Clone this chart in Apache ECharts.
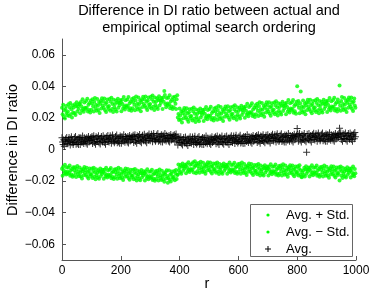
<!DOCTYPE html>
<html><head><meta charset="utf-8">
<script src="https://cdn.jsdelivr.net/npm/echarts@6/dist/echarts.min.js"></script>
<style>html,body{margin:0;padding:0;background:#fff}#c{width:374px;height:294px}</style>
</head><body><div id="c"></div>
<script>
var titleLines = ["Difference in DI ratio between actual and", "empirical optimal search ordering"];
var xName = "r";
var yName = "Difference in DI ratio";
var seriesNames = ["Avg. + Std.", "Avg. \u2212 Std.", "Avg."];
var xTicks = [0, 200, 400, 600, 800, 1000];
var xTickLabels = ["0", "200", "400", "600", "800", "1000"];
var yTicks = [-0.06, -0.04, -0.02, 0, 0.02, 0.04, 0.06];
var yTickLabels = ["\u22120.06", "\u22120.04", "\u22120.02", "0", "0.02", "0.04", "0.06"];

var r = [
0,2,4,6,8,10,12,14,16,18,20,22,24,26,28,30,32,34,36,38,40,42,44,46,48,50,52,54,56,58,60,62,64,66,68,70,72,74,76,78,80,82,84,86,88,90,92,94,96,98,
100,102,104,106,108,110,112,114,116,118,120,122,124,126,128,130,132,134,136,138,140,142,144,146,148,150,152,154,156,158,160,162,164,166,168,170,172,174,176,178,180,182,184,186,188,190,192,194,196,198,
200,202,204,206,208,210,212,214,216,218,220,222,224,226,228,230,232,234,236,238,240,242,244,246,248,250,252,254,256,258,260,262,264,266,268,270,272,274,276,278,280,282,284,286,288,290,292,294,296,298,
300,302,304,306,308,310,312,314,316,318,320,322,324,326,328,330,332,334,336,338,340,342,344,346,348,350,352,354,356,358,360,362,364,366,368,370,372,374,376,378,380,382,384,386,388,390,392,394,396,398,
400,402,404,406,408,410,412,414,416,418,420,422,424,426,428,430,432,434,436,438,440,442,444,446,448,450,452,454,456,458,460,462,464,466,468,470,472,474,476,478,480,482,484,486,488,490,492,494,496,498,
500,502,504,506,508,510,512,514,516,518,520,522,524,526,528,530,532,534,536,538,540,542,544,546,548,550,552,554,556,558,560,562,564,566,568,570,572,574,576,578,580,582,584,586,588,590,592,594,596,598,
600,602,604,606,608,610,612,614,616,618,620,622,624,626,628,630,632,634,636,638,640,642,644,646,648,650,652,654,656,658,660,662,664,666,668,670,672,674,676,678,680,682,684,686,688,690,692,694,696,698,
700,702,704,706,708,710,712,714,716,718,720,722,724,726,728,730,732,734,736,738,740,742,744,746,748,750,752,754,756,758,760,762,764,766,768,770,772,774,776,778,780,782,784,786,788,790,792,794,796,798,
800,802,804,806,808,810,812,814,816,818,820,822,824,826,828,830,832,834,836,838,840,842,844,846,848,850,852,854,856,858,860,862,864,866,868,870,872,874,876,878,880,882,884,886,888,890,892,894,896,898,
900,902,904,906,908,910,912,914,916,918,920,922,924,926,928,930,932,934,936,938,940,942,944,946,948,950,952,954,956,958,960,962,964,966,968,970,972,974,976,978,980,982,984,986,988,990,992,994,996,998];

var avgPlusStd = [
.0264,.0224,.0283,.0211,.0249,.0197,.0257,.0276,.0231,.0217,
.0241,.0286,.0212,.0268,.0294,.0223,.0255,.0203,.0281,.0234,
.0266,.0230,.0287,.0218,.0275,.0299,.0241,.0272,.0257,.0289,
.0286,.0229,.0301,.0274,.0248,.0318,.0258,.0239,.0298,.0264,
.0257,.0307,.0265,.0322,.0241,.0283,.0251,.0294,.0235,.0310,
.0252,.0292,.0318,.0274,.0240,.0303,.0327,.0261,.0283,.0245,
.0320,.0277,.0251,.0301,.0232,.0290,.0309,.0259,.0324,.0279,
.0304,.0264,.0323,.0251,.0289,.0237,.0297,.0316,.0271,.0257,
.0275,.0320,.0246,.0302,.0328,.0257,.0289,.0237,.0315,.0268,
.0289,.0253,.0310,.0241,.0298,.0322,.0264,.0295,.0280,.0312,
.0300,.0243,.0315,.0288,.0262,.0332,.0272,.0253,.0312,.0278,
.0267,.0317,.0275,.0332,.0251,.0293,.0261,.0304,.0245,.0320,
.0261,.0301,.0327,.0283,.0249,.0312,.0336,.0270,.0292,.0254,
.0330,.0287,.0261,.0311,.0242,.0300,.0319,.0269,.0334,.0289,
.0317,.0277,.0336,.0264,.0302,.0250,.0310,.0329,.0284,.0270,
.0289,.0334,.0260,.0316,.0342,.0271,.0303,.0251,.0329,.0282,
.0304,.0268,.0325,.0256,.0313,.0337,.0279,.0310,.0295,.0327,
.0314,.0257,.0329,.0302,.0370,.0346,.0286,.0267,.0326,.0292,
.0278,.0328,.0286,.0343,.0262,.0304,.0272,.0315,.0256,.0331,
.0268,.0308,.0334,.0290,.0256,.0319,.0343,.0203,.0225,.0187,
.0259,.0216,.0190,.0240,.0171,.0229,.0248,.0198,.0263,.0218,
.0243,.0203,.0262,.0190,.0228,.0176,.0236,.0255,.0210,.0196,
.0213,.0258,.0184,.0240,.0266,.0195,.0227,.0175,.0253,.0206,
.0227,.0191,.0248,.0179,.0236,.0260,.0202,.0233,.0218,.0250,
.0238,.0181,.0253,.0226,.0200,.0270,.0210,.0191,.0250,.0216,
.0206,.0256,.0214,.0271,.0190,.0232,.0200,.0243,.0184,.0259,
.0200,.0240,.0266,.0222,.0188,.0251,.0275,.0209,.0231,.0193,
.0269,.0226,.0200,.0250,.0181,.0239,.0258,.0208,.0273,.0228,
.0255,.0215,.0274,.0202,.0240,.0188,.0248,.0267,.0222,.0208,
.0227,.0272,.0198,.0254,.0280,.0209,.0241,.0189,.0267,.0220,
.0244,.0208,.0265,.0196,.0253,.0277,.0219,.0250,.0235,.0267,
.0258,.0201,.0273,.0246,.0220,.0290,.0230,.0211,.0270,.0236,
.0228,.0278,.0236,.0293,.0212,.0254,.0222,.0265,.0206,.0281,
.0224,.0264,.0290,.0246,.0212,.0275,.0299,.0233,.0255,.0217,
.0295,.0252,.0226,.0276,.0207,.0265,.0284,.0234,.0299,.0254,
.0281,.0241,.0300,.0228,.0266,.0214,.0274,.0293,.0248,.0234,
.0253,.0298,.0224,.0280,.0306,.0235,.0267,.0215,.0293,.0246,
.0269,.0233,.0290,.0221,.0278,.0302,.0244,.0275,.0260,.0292,
.0281,.0224,.0296,.0269,.0243,.0313,.0253,.0234,.0293,.0259,
.0249,.0299,.0257,.0314,.0233,.0275,.0243,.0286,.0227,.0302,
.0400,.0282,.0308,.0264,.0230,.0293,.0368,.0251,.0273,.0235,
.0311,.0268,.0242,.0292,.0223,.0281,.0300,.0250,.0315,.0270,
.0296,.0256,.0315,.0243,.0281,.0229,.0289,.0308,.0263,.0249,
.0267,.0312,.0238,.0294,.0320,.0249,.0281,.0229,.0307,.0260,
.0282,.0246,.0303,.0234,.0291,.0315,.0257,.0288,.0273,.0305,
.0294,.0237,.0309,.0282,.0256,.0326,.0266,.0247,.0306,.0272,
.0263,.0313,.0271,.0328,.0247,.0289,.0257,.0300,.0241,.0316,
.0257,.0297,.0405,.0279,.0245,.0308,.0332,.0266,.0288,.0250,
.0326,.0283,.0257,.0307,.0238,.0296,.0315,.0265,.0330,.0285,
.0311,.0271,.0330,.0258,.0296,.0244,.0304,.0323,.0278,.0264];

var avgMinusStd = [
-.0122,-.0167,-.0110,-.0131,-.0152,-.0096,-.0144,-.0159,-.0112,-.0139,
-.0154,-.0114,-.0148,-.0102,-.0167,-.0133,-.0159,-.0124,-.0172,-.0112,
-.0164,-.0132,-.0112,-.0147,-.0174,-.0124,-.0104,-.0157,-.0140,-.0170,
-.0114,-.0148,-.0169,-.0129,-.0184,-.0138,-.0123,-.0163,-.0111,-.0147,
-.0130,-.0162,-.0115,-.0173,-.0142,-.0184,-.0136,-.0121,-.0157,-.0168,
-.0157,-.0121,-.0180,-.0136,-.0115,-.0172,-.0146,-.0188,-.0125,-.0163,
-.0148,-.0177,-.0131,-.0186,-.0141,-.0121,-.0168,-.0143,-.0155,-.0129,
-.0141,-.0186,-.0129,-.0150,-.0171,-.0115,-.0163,-.0178,-.0131,-.0158,
-.0169,-.0129,-.0163,-.0117,-.0182,-.0148,-.0174,-.0139,-.0187,-.0127,
-.0176,-.0144,-.0124,-.0159,-.0186,-.0136,-.0116,-.0169,-.0152,-.0182,
-.0124,-.0158,-.0179,-.0139,-.0194,-.0148,-.0133,-.0173,-.0121,-.0157,
-.0138,-.0170,-.0123,-.0181,-.0150,-.0192,-.0144,-.0129,-.0165,-.0176,
-.0165,-.0129,-.0188,-.0144,-.0123,-.0180,-.0154,-.0196,-.0133,-.0171,
-.0157,-.0186,-.0140,-.0195,-.0150,-.0130,-.0177,-.0152,-.0164,-.0138,
-.0151,-.0196,-.0139,-.0160,-.0181,-.0125,-.0173,-.0188,-.0141,-.0168,
-.0180,-.0140,-.0174,-.0128,-.0193,-.0159,-.0185,-.0150,-.0198,-.0138,
-.0187,-.0155,-.0135,-.0170,-.0197,-.0147,-.0127,-.0180,-.0163,-.0193,
-.0135,-.0169,-.0190,-.0150,-.0205,-.0159,-.0144,-.0184,-.0132,-.0168,
-.0210,-.0180,-.0133,-.0191,-.0160,-.0202,-.0154,-.0139,-.0175,-.0186,
-.0172,-.0136,-.0195,-.0151,-.0130,-.0187,-.0161,-.0158,-.0095,-.0133,
-.0115,-.0144,-.0098,-.0153,-.0108,-.0088,-.0135,-.0110,-.0122,-.0096,
-.0106,-.0151,-.0094,-.0115,-.0136,-.0080,-.0128,-.0143,-.0096,-.0123,
-.0132,-.0092,-.0126,-.0080,-.0145,-.0111,-.0074,-.0102,-.0150,-.0090,
-.0137,-.0105,-.0085,-.0120,-.0147,-.0097,-.0077,-.0130,-.0113,-.0143,
-.0084,-.0118,-.0139,-.0099,-.0154,-.0108,-.0093,-.0133,-.0081,-.0117,
-.0098,-.0130,-.0083,-.0141,-.0110,-.0152,-.0104,-.0089,-.0125,-.0136,
-.0124,-.0088,-.0147,-.0103,-.0082,-.0139,-.0113,-.0155,-.0092,-.0130,
-.0115,-.0144,-.0098,-.0153,-.0108,-.0088,-.0135,-.0110,-.0122,-.0096,
-.0108,-.0153,-.0096,-.0117,-.0138,-.0082,-.0130,-.0145,-.0098,-.0125,
-.0136,-.0096,-.0130,-.0084,-.0149,-.0115,-.0141,-.0106,-.0154,-.0094,
-.0143,-.0111,-.0091,-.0126,-.0153,-.0103,-.0083,-.0136,-.0119,-.0149,
-.0092,-.0126,-.0147,-.0107,-.0162,-.0116,-.0101,-.0141,-.0089,-.0125,
-.0107,-.0139,-.0092,-.0150,-.0119,-.0161,-.0113,-.0098,-.0134,-.0145,
-.0134,-.0098,-.0157,-.0113,-.0092,-.0149,-.0123,-.0165,-.0102,-.0140,
-.0126,-.0155,-.0109,-.0164,-.0119,-.0099,-.0146,-.0121,-.0133,-.0107,
-.0119,-.0164,-.0107,-.0128,-.0149,-.0093,-.0141,-.0156,-.0109,-.0136,
-.0147,-.0107,-.0141,-.0095,-.0160,-.0126,-.0152,-.0117,-.0165,-.0105,
-.0154,-.0122,-.0102,-.0137,-.0164,-.0114,-.0094,-.0147,-.0130,-.0160,
-.0102,-.0136,-.0157,-.0117,-.0172,-.0126,-.0111,-.0151,-.0099,-.0135,
-.0116,-.0148,-.0101,-.0159,-.0128,-.0170,-.0122,-.0107,-.0143,-.0154,
-.0142,-.0106,-.0165,-.0121,-.0100,-.0157,-.0131,-.0173,-.0176,-.0148,
-.0133,-.0162,-.0116,-.0171,-.0126,-.0106,-.0153,-.0128,-.0140,-.0114,
-.0126,-.0171,-.0114,-.0135,-.0156,-.0100,-.0148,-.0163,-.0116,-.0143,
-.0154,-.0114,-.0148,-.0102,-.0167,-.0133,-.0159,-.0124,-.0172,-.0112,
-.0161,-.0129,-.0109,-.0144,-.0171,-.0121,-.0101,-.0154,-.0137,-.0167,
-.0109,-.0143,-.0164,-.0124,-.0179,-.0133,-.0118,-.0158,-.0106,-.0142,
-.0123,-.0155,-.0108,-.0166,-.0135,-.0177,-.0129,-.0114,-.0150,-.0161,
-.0149,-.0113,-.0197,-.0128,-.0107,-.0164,-.0138,-.0180,-.0117,-.0155,
-.0140,-.0169,-.0123,-.0178,-.0133,-.0113,-.0160,-.0135,-.0147,-.0121,
-.0133,-.0178,-.0121,-.0142,-.0163,-.0107,-.0155,-.0170,-.0123,-.0150];

var avg = [
.0074,.0048,.0032,.0062,.0021,.0055,.0067,.0037,.0076,.0049,
.0036,.0060,.0076,.0049,.0029,.0067,.0081,.0042,.0055,.0032,
.0044,.0074,.0049,.0083,.0034,.0060,.0040,.0066,.0031,.0076,
.0066,.0032,.0075,.0059,.0044,.0086,.0050,.0038,.0074,.0053,
.0062,.0041,.0075,.0034,.0068,.0082,.0047,.0066,.0057,.0076,
.0056,.0083,.0038,.0072,.0087,.0045,.0064,.0033,.0080,.0051,
.0075,.0051,.0087,.0043,.0066,.0035,.0071,.0083,.0055,.0047,
.0087,.0061,.0045,.0075,.0034,.0068,.0080,.0050,.0089,.0062,
.0047,.0071,.0087,.0060,.0040,.0078,.0092,.0053,.0066,.0043,
.0053,.0083,.0058,.0092,.0043,.0069,.0049,.0075,.0040,.0085,
.0074,.0040,.0083,.0067,.0052,.0094,.0058,.0046,.0082,.0061,
.0069,.0048,.0082,.0041,.0075,.0089,.0054,.0073,.0064,.0083,
.0063,.0090,.0045,.0079,.0094,.0052,.0071,.0040,.0087,.0058,
.0083,.0059,.0095,.0051,.0074,.0043,.0079,.0091,.0063,.0055,
.0096,.0070,.0054,.0084,.0043,.0077,.0089,.0059,.0098,.0071,
.0056,.0080,.0096,.0069,.0049,.0087,.0101,.0062,.0075,.0052,
.0062,.0092,.0067,.0101,.0052,.0078,.0058,.0084,.0049,.0094,
.0082,.0048,.0091,.0075,.0060,.0102,.0066,.0054,.0090,.0069,
.0075,.0054,.0088,.0047,.0081,.0095,.0060,.0079,.0070,.0089,
.0067,.0094,.0049,.0083,.0098,.0056,.0075,.0028,.0075,.0046,
.0068,.0044,.0080,.0036,.0059,.0028,.0064,.0076,.0048,.0040,
.0079,.0053,.0037,.0067,.0026,.0060,.0072,.0042,.0081,.0054,
.0039,.0063,.0079,.0052,.0032,.0070,.0084,.0045,.0058,.0035,
.0044,.0074,.0049,.0083,.0034,.0060,.0040,.0066,.0031,.0076,
.0065,.0031,.0074,.0058,.0043,.0085,.0049,.0037,.0073,.0052,
.0060,.0039,.0073,.0032,.0066,.0080,.0045,.0064,.0055,.0074,
.0054,.0081,.0036,.0070,.0085,.0043,.0062,.0031,.0078,.0049,
.0073,.0049,.0085,.0041,.0064,.0033,.0069,.0081,.0053,.0045,
.0085,.0059,.0043,.0073,.0032,.0066,.0078,.0048,.0087,.0060,
.0045,.0069,.0085,.0058,.0038,.0076,.0090,.0051,.0064,.0041,
.0051,.0081,.0056,.0090,.0041,.0067,.0047,.0073,.0038,.0083,
.0073,.0039,.0082,.0066,.0051,.0093,.0057,.0045,.0081,.0060,
.0068,.0047,.0081,.0040,.0074,.0088,.0053,.0072,.0063,.0082,
.0062,.0089,.0044,.0078,.0093,.0051,.0070,.0039,.0086,.0057,
.0082,.0058,.0094,.0050,.0073,.0042,.0078,.0090,.0062,.0054,
.0094,.0068,.0052,.0082,.0041,.0075,.0087,.0057,.0096,.0069,
.0054,.0078,.0094,.0067,.0047,.0085,.0099,.0060,.0073,.0050,
.0060,.0090,.0065,.0099,.0050,.0076,.0056,.0082,.0047,.0092,
.0081,.0047,.0090,.0074,.0059,.0101,.0065,.0053,.0089,.0068,
.0076,.0055,.0089,.0048,.0082,.0096,.0061,.0080,.0071,.0090,
.0133,.0097,.0052,.0086,.0101,.0059,.0078,.0047,.0094,.0065,
.0089,.0065,.0101,.0057,.0080,.0049,-.0017,.0097,.0069,.0061,
.0101,.0075,.0059,.0089,.0048,.0082,.0094,.0064,.0103,.0076,
.0060,.0084,.0100,.0073,.0053,.0091,.0105,.0066,.0079,.0056,
.0066,.0096,.0071,.0105,.0056,.0082,.0062,.0088,.0053,.0098,
.0086,.0052,.0095,.0079,.0064,.0106,.0070,.0058,.0094,.0073,
.0081,.0060,.0094,.0053,.0087,.0101,.0066,.0085,.0076,.0095,
.0075,.0102,.0135,.0091,.0106,.0064,.0083,.0052,.0099,.0070,
.0093,.0069,.0105,.0061,.0084,.0053,.0089,.0101,.0073,.0065,
.0105,.0079,.0063,.0093,.0052,.0086,.0098,.0068,.0107,.0080];

function pairs(vals){ return vals.map(function(v,i){ return [r[i], v]; }); }
function labelFor(ticks, labels, v){
  for (var i = 0; i < ticks.length; i++) { if (Math.abs(ticks[i]-v) < 1e-9) return labels[i]; }
  return '';
}

var FONT = 'Liberation Sans, Arial, sans-serif';
var GREEN = '#00ff00';
var PLUS = 'path://M3,0H4V3H7V4H4V7H3V4H0V3H3Z';

var chart = echarts.init(document.getElementById('c'), null, {renderer:'canvas'});
chart.setOption({
  animation: false,
  backgroundColor: '#fff',
  textStyle: {fontFamily: FONT},
  grid: {left: 62, right: 18, top: 39, bottom: 34, containLabel: false},
  xAxis: {
    type: 'value', min: 0, max: 1000, interval: 200,
    axisLine: {show: true, onZero: false, lineStyle: {color: '#555', width: 1}},
    axisTick: {show: true, inside: true, length: 4, lineStyle: {color: '#555'}, customValues: xTicks},
    axisLabel: {color: '#000', fontSize: 12, margin: 5, fontFamily: FONT, customValues: xTicks,
      formatter: function(v){ return labelFor(xTicks, xTickLabels, v); }},
    splitLine: {show: false}
  },
  yAxis: {
    type: 'value', min: -0.07, max: 0.07,
    axisLine: {show: true, onZero: false, lineStyle: {color: '#555', width: 1}},
    axisTick: {show: true, inside: true, length: 4, lineStyle: {color: '#555'}, customValues: yTicks},
    axisLabel: {color: '#000', fontSize: 12, margin: 7, fontFamily: FONT, customValues: yTicks,
      formatter: function(v){ return labelFor(yTicks, yTickLabels, v); }},
    splitLine: {show: false}
  },
  series: [
    {name: seriesNames[0], type: 'scatter', data: pairs(avgPlusStd), symbol: 'circle', symbolSize: 4,
     itemStyle: {color: GREEN}, z: 2},
    {name: seriesNames[1], type: 'scatter', data: pairs(avgMinusStd), symbol: 'circle', symbolSize: 4,
     itemStyle: {color: GREEN}, z: 2},
    {name: seriesNames[2], type: 'scatter', data: pairs(avg), symbol: PLUS, symbolSize: 7,
     itemStyle: {color: '#000'}, z: 3}
  ],
  graphic: [
    {type: 'text', x: 209, y: 11.3, z: 100, style: {text: titleLines[0], font: '14.5px ' + FONT, fill: '#000', textAlign: 'center', textVerticalAlign: 'middle'}},
    {type: 'text', x: 209, y: 27.5, z: 100, style: {text: titleLines[1], font: '14.5px ' + FONT, fill: '#000', textAlign: 'center', textVerticalAlign: 'middle'}},
    {type: 'text', x: 13, y: 150, rotation: Math.PI/2, z: 100, style: {text: yName, font: '14.5px ' + FONT, fill: '#000', textAlign: 'center', textVerticalAlign: 'middle'}},
    {type: 'text', x: 207, y: 284, z: 100, style: {text: xName, font: '14.5px ' + FONT, fill: '#000', textAlign: 'center', textVerticalAlign: 'middle'}},
    {type: 'rect', z: 100, shape: {x: 250.5, y: 204.5, width: 102, height: 52}, style: {fill: '#fff', stroke: '#666', lineWidth: 1}},
    {type: 'circle', z: 101, shape: {cx: 268, cy: 215, r: 1.6}, style: {fill: GREEN}},
    {type: 'circle', z: 101, shape: {cx: 268, cy: 232, r: 1.6}, style: {fill: GREEN}},
    {type: 'rect', z: 101, shape: {x: 265, y: 248.5, width: 6, height: 1}, style: {fill: '#000'}},
    {type: 'rect', z: 101, shape: {x: 267.5, y: 246, width: 1, height: 6}, style: {fill: '#000'}},
    {type: 'text', x: 286, y: 215, z: 101, style: {text: seriesNames[0], font: '13px ' + FONT, fill: '#000', textVerticalAlign: 'middle'}},
    {type: 'text', x: 286, y: 232, z: 101, style: {text: seriesNames[1], font: '13px ' + FONT, fill: '#000', textVerticalAlign: 'middle'}},
    {type: 'text', x: 286, y: 249, z: 101, style: {text: seriesNames[2], font: '13px ' + FONT, fill: '#000', textVerticalAlign: 'middle'}}
  ]
});
</script></body></html>
